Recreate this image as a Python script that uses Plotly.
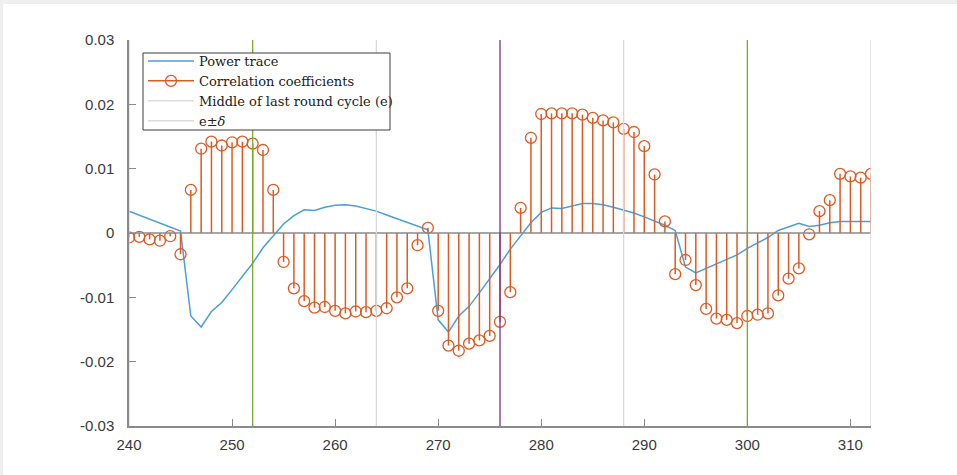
import plotly.graph_objects as go

# Sample index (time) axis
samples = list(range(240, 313))

# Averaged power trace
power_trace = [
    0.0034, 0.0028, 0.0022, 0.0016, 0.0010, 0.0003, -0.0129, -0.0146, -0.0122, -0.0108,
    -0.0088, -0.0067, -0.0047, -0.0023, -0.0004, 0.0014, 0.0027, 0.0036, 0.0035, 0.0040,
    0.0043, 0.0044, 0.0042, 0.0038, 0.0034, 0.0028, 0.0022, 0.0017, 0.0011, 0.0005,
    -0.0135, -0.0154, -0.0129, -0.0114, -0.0093, -0.0071, -0.0049, -0.0025, -0.0005, 0.0016,
    0.0032, 0.0039, 0.0038, 0.0042, 0.0046, 0.0046, 0.0044, 0.0040, 0.0036, 0.0031,
    0.0025, 0.0019, 0.0012, 0.0004, -0.0053, -0.0062, -0.0055, -0.0049, -0.0042, -0.0034,
    -0.0024, -0.0016, -0.0007, 0.0004, 0.0009, 0.0015, 0.0010, 0.0012, 0.0016, 0.0018,
    0.0018, 0.0018, 0.0018,
]

# Correlation coefficient per sample
correlation = [
    -0.0007, -0.0006, -0.0010, -0.0012, -0.0005, -0.0033, 0.0067, 0.0131, 0.0142, 0.0136,
    0.0141, 0.0142, 0.0139, 0.0129, 0.0067, -0.0045, -0.0086, -0.0106, -0.0116, -0.0115,
    -0.0121, -0.0125, -0.0122, -0.0123, -0.0121, -0.0117, -0.0100, -0.0086, -0.0019, 0.0008,
    -0.0121, -0.0175, -0.0183, -0.0172, -0.0167, -0.0160, -0.0138, -0.0092, 0.0039, 0.0148,
    0.0185, 0.0186, 0.0186, 0.0186, 0.0184, 0.0179, 0.0175, 0.0172, 0.0162, 0.0157,
    0.0135, 0.0091, 0.0018, -0.0064, -0.0042, -0.0081, -0.0118, -0.0133, -0.0135, -0.0140,
    -0.0129, -0.0127, -0.0125, -0.0097, -0.0071, -0.0055, -0.0002, 0.0034, 0.0051, 0.0092,
    0.0088, 0.0086, 0.0092,
]

# Reference sample positions: e = 276, e±δ with δ = 12, and further cycle marks
ref_positions = [240, 252, 264, 276, 288, 300, 312]
ref_colors = ["#d9d9d9", "#77AC30", "#d9d9d9", "#7E2F8E", "#d9d9d9", "#77AC30", "#d9d9d9"]

y_ticks = [-0.03, -0.02, -0.01, 0, 0.01, 0.02, 0.03]
y_tick_labels = ["-0.03", "-0.02", "-0.01", "0", "0.01", "0.02", "0.03"]
x_ticks = [240, 250, 260, 270, 280, 290, 300, 310]

BLUE = "#4A9FD9"
ORANGE = "#DE5A22"
AXIS_GREY = "#8a8a8a"

fig = go.Figure()

# Power trace
fig.add_trace(go.Scatter(
    x=samples, y=power_trace, mode="lines", name="Power trace",
    line=dict(color=BLUE, width=1.5), legendrank=1,
))

# Stems
stem_x, stem_y = [], []
for s, c in zip(samples, correlation):
    stem_x += [s, s, None]
    stem_y += [0, c, None]
fig.add_trace(go.Scatter(
    x=stem_x, y=stem_y, mode="lines", showlegend=False, hoverinfo="skip",
    line=dict(color=ORANGE, width=1.5),
))
fig.add_trace(go.Scatter(
    x=samples, y=correlation, mode="markers", showlegend=False,
    marker=dict(symbol="circle-open", size=11, color=ORANGE, line=dict(width=1.3)),
))
# Legend entry for the stem series
fig.add_trace(go.Scatter(
    x=[None], y=[None], mode="lines+markers", name="Correlation coefficients",
    line=dict(color=ORANGE, width=1.5),
    marker=dict(symbol="circle-open", size=11, color=ORANGE, line=dict(width=1.3)),
    legendrank=2,
))

# Stem baseline
fig.add_trace(go.Scatter(
    x=[samples[0], samples[-1]], y=[0, 0], mode="lines", showlegend=False,
    hoverinfo="skip", line=dict(color=AXIS_GREY, width=1.5),
))

# Reference vertical lines
for pos, col in zip(ref_positions, ref_colors):
    fig.add_trace(go.Scatter(
        x=[pos, pos], y=[y_ticks[0], y_ticks[-1]], mode="lines", showlegend=False,
        hoverinfo="skip", line=dict(color=col, width=1.3),
    ))

fig.add_trace(go.Scatter(
    x=[None], y=[None], mode="lines", name="Middle of last round cycle (e)",
    line=dict(color="#dcdcdc", width=1.5), legendrank=3,
))
fig.add_trace(go.Scatter(
    x=[None], y=[None], mode="lines", name="e±<i>δ</i>",
    line=dict(color="#dcdcdc", width=1.5), legendrank=4,
))

W, H = 957, 475
L, R, T, B = 129, 86, 40, 49
pw, ph = W - L - R, H - T - B

# Light grey page edge strips
fig.add_shape(type="rect", xref="paper", yref="paper",
              x0=-L / pw, x1=(W - L) / pw, y0=1 + (T - 4) / ph, y1=1 + T / ph,
              fillcolor="#efefef", line=dict(width=0), layer="below")
fig.add_shape(type="rect", xref="paper", yref="paper",
              x0=-L / pw, x1=(-L + 3) / pw, y0=-B / ph, y1=1 + T / ph,
              fillcolor="#efefef", line=dict(width=0), layer="below")

# Legend frame (white box over the plot, entries drawn on top of it)
fig.add_shape(type="rect", xref="paper", yref="paper",
              x0=(143 - L) / pw, x1=(390 - L) / pw,
              y0=1 - (130 - T) / ph, y1=1 - (53 - T) / ph,
              fillcolor="white", line=dict(color="#3c3c3c", width=1), layer="above")

fig.update_layout(
    width=W, height=H,
    margin=dict(l=L, r=R, t=T, b=B),
    paper_bgcolor="white", plot_bgcolor="white",
    font=dict(family="Liberation Sans, Arial, sans-serif", size=15, color="#3a3a3a"),
    showlegend=True,
    legend=dict(
        x=(143 - L) / pw, y=1 - (46 - T) / ph, xanchor="left", yanchor="top",
        bgcolor="rgba(0,0,0,0)", borderwidth=0,
        font=dict(family="DejaVu Serif, serif", size=13, color="#202020"),
        itemwidth=46, tracegroupgap=0,
    ),
    xaxis=dict(
        range=[samples[0], samples[-1]], tickvals=x_ticks,
        showgrid=False, zeroline=False, showline=True, linecolor=AXIS_GREY, linewidth=1.5,
        ticks="inside", ticklen=7, tickwidth=1.2, tickcolor=AXIS_GREY,
        ticklabelstandoff=4,
    ),
    yaxis=dict(
        range=[y_ticks[0], y_ticks[-1]], tickvals=y_ticks, ticktext=y_tick_labels,
        showgrid=False, zeroline=False, showline=True, linecolor=AXIS_GREY, linewidth=1.5,
        ticks="inside", ticklen=7, tickwidth=1.2, tickcolor=AXIS_GREY,
        ticklabelstandoff=10,
    ),
)

fig.write_html("out.html")
